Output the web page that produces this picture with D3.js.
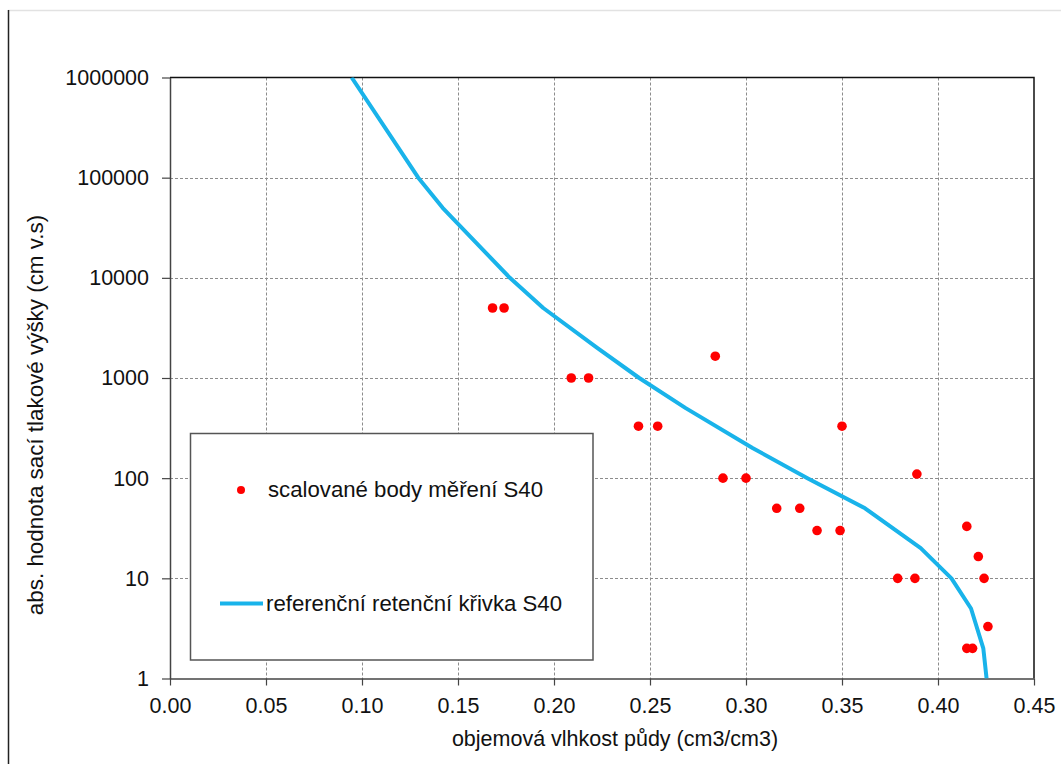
<!DOCTYPE html>
<html><head><meta charset="utf-8">
<script src="https://cdn.jsdelivr.net/npm/d3@7"></script>
<style>
body{margin:0;background:#fff}
text{font-family:"Liberation Sans",Arial,sans-serif;fill:#111}
</style>
</head><body>
<svg id="chart" width="1061" height="764"></svg>
<script>
// ---- data ----
const xTicks = [0.00, 0.05, 0.10, 0.15, 0.20, 0.25, 0.30, 0.35, 0.40, 0.45];
const yTicks = [1, 10, 100, 1000, 10000, 100000, 1000000];

// measured points (scaled) S40
const pointTheta = [0.168, 0.174, 0.284, 0.209, 0.218, 0.244, 0.254, 0.288, 0.300, 0.350, 0.389,
                    0.316, 0.328, 0.337, 0.349, 0.415, 0.421, 0.379, 0.388, 0.424, 0.426, 0.415, 0.418];
const pointH     = [5000, 5000, 1650, 1000, 1000, 330, 330, 100, 100, 330, 110,
                    50, 50, 30, 30, 33, 16.5, 10, 10, 10, 3.3, 2, 2];

// reference retention curve S40
const curveTheta = [0.0946, 0.1293, 0.142, 0.177, 0.1944, 0.2225, 0.2444, 0.2686, 0.3034, 0.332,
                    0.362, 0.391, 0.407, 0.4172, 0.4236, 0.4253];
const curveH     = [1000000, 100000, 50000, 10000, 5000, 2000, 1000, 500, 200, 100,
                    50, 20, 10, 5, 2, 1];

const seriesNames = ["scalované body měření S40", "referenční retenční křivka S40"];
const xTitle = "objemová vlhkost půdy (cm3/cm3)";
const yTitle = "abs. hodnota sací tlakové výšky (cm v.s)";

// ---- layout ----
const svg = d3.select("#chart");
const L = 170, R = 1034, T = 77.5, B = 678.5;
const x = d3.scaleLinear().domain([0, 0.45]).range([L, R]);
const y = d3.scaleLog().domain([1, 1000000]).range([B, T]);

// outer chart frame (partially visible)
svg.append("line").attr("x1", 8).attr("x2", 1061).attr("y1", 10.5).attr("y2", 10.5)
  .attr("stroke", "#e2e2e2").attr("stroke-width", 1.5);
svg.append("line").attr("x1", 8.5).attr("x2", 8.5).attr("y1", 10).attr("y2", 764)
  .attr("stroke", "#222").attr("stroke-width", 1.5);

// grid
const grid = svg.append("g");
grid.selectAll("line.gx").data(xTicks.slice(1, -1)).join("line")
  .attr("x1", d => Math.round(x(d)) + 0.5).attr("x2", d => Math.round(x(d)) + 0.5)
  .attr("y1", T).attr("y2", B)
  .attr("stroke", "#8c8c8c").attr("stroke-width", 1).attr("stroke-dasharray", "3,2");
grid.selectAll("line.gy").data(yTicks.slice(1, -1)).join("line")
  .attr("x1", L).attr("x2", R)
  .attr("y1", d => Math.round(y(d)) + 0.5).attr("y2", d => Math.round(y(d)) + 0.5)
  .attr("stroke", "#8c8c8c").attr("stroke-width", 1).attr("stroke-dasharray", "3,2");

// top / right border
svg.append("path").attr("d", `M${L},${T}H${R}V${B}`).attr("fill", "none")
  .attr("stroke", "#111").attr("stroke-width", 1.5);

// axes
const xAxis = d3.axisBottom(x).tickValues(xTicks).tickFormat(d3.format(".2f"))
  .tickSizeInner(7).tickSizeOuter(0).tickPadding(12);
const gx = svg.append("g").attr("transform", `translate(0,${B})`).call(xAxis);
gx.select(".domain").attr("stroke", "#444").attr("stroke-width", 1.5);
gx.selectAll(".tick line").attr("stroke", "#444").attr("stroke-width", 1.2);
gx.selectAll("text").attr("font-size", 21.5).attr("fill", "#111")
  .style("font-family", '"Liberation Sans",Arial,sans-serif');

const yAxis = d3.axisLeft(y).tickValues(yTicks).tickFormat(d3.format("d"))
  .tickSizeInner(8).tickSizeOuter(0).tickPadding(13);
const gy = svg.append("g").attr("transform", `translate(${L},0)`).call(yAxis);
gy.select(".domain").attr("stroke", "#444").attr("stroke-width", 1.5);
gy.selectAll(".tick line").attr("stroke", "#444").attr("stroke-width", 1.2);
gy.selectAll("text").attr("font-size", 21.5).attr("fill", "#111")
  .style("font-family", '"Liberation Sans",Arial,sans-serif');

// axis titles
svg.append("text").attr("x", 615).attr("y", 746).attr("text-anchor", "middle")
  .attr("font-size", 21.5).text(xTitle);
svg.append("text").attr("transform", "translate(43,415) rotate(-90)")
  .attr("text-anchor", "middle").attr("font-size", 22.4).text(yTitle);

// curve
const curvePts = curveTheta.map((t, i) => [t, curveH[i]]);
svg.append("defs").append("clipPath").attr("id", "clip")
  .append("rect").attr("x", L).attr("y", T).attr("width", R - L).attr("height", B - T);
svg.append("path").datum(curvePts)
  .attr("clip-path", "url(#clip)")
  .attr("fill", "none").attr("stroke", "#19b3ea").attr("stroke-width", 4)
  .attr("stroke-linejoin", "round")
  .attr("d", d3.line().x(d => x(d[0])).y(d => y(d[1])));

// points
const pts = pointTheta.map((t, i) => [t, pointH[i]]);
svg.append("g").selectAll("circle").data(pts).join("circle")
  .attr("cx", d => x(d[0])).attr("cy", d => y(d[1])).attr("r", 4.8)
  .attr("fill", "#ff0000");

// legend
const lg = svg.append("g");
lg.append("rect").attr("x", 190.5).attr("y", 433.5).attr("width", 402.5).attr("height", 226.5)
  .attr("fill", "#fff").attr("stroke", "#555").attr("stroke-width", 1.5);
lg.append("circle").attr("cx", 241).attr("cy", 490).attr("r", 4).attr("fill", "#ff0000");
lg.append("text").attr("x", 268).attr("y", 497).attr("font-size", 22.2).text(seriesNames[0]);
lg.append("line").attr("x1", 220).attr("x2", 263).attr("y1", 603.5).attr("y2", 603.5)
  .attr("stroke", "#19b3ea").attr("stroke-width", 4);
lg.append("text").attr("x", 266).attr("y", 611).attr("font-size", 22.2).text(seriesNames[1]);
</script>
</body></html>
